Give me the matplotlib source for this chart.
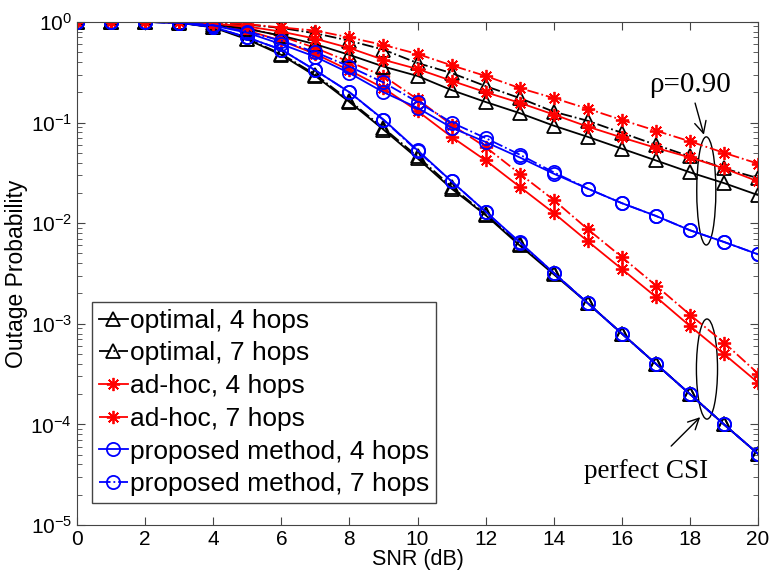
import matplotlib
matplotlib.use("Agg")
import matplotlib.pyplot as plt
from matplotlib.patches import Ellipse
from matplotlib.ticker import LogLocator, NullFormatter

plt.rcParams["font.family"] = ["Liberation Sans", "DejaVu Sans"]
plt.rcParams["mathtext.default"] = "regular"

snr = list(range(0, 21))

# perfect CSI
opt4_perf = [1, 1, 1, 0.98, 0.88, 0.67, 0.47, 0.29, 0.16, 0.085, 0.044, 0.022, 0.012,
             0.006, 0.0031, 0.0016, 0.0008, 0.0004, 0.0002, 0.0001, 5.1e-5]
opt7_perf = [1, 1, 1, 0.98, 0.89, 0.68, 0.48, 0.30, 0.165, 0.088, 0.046, 0.023, 0.0122,
             0.0062, 0.0032, 0.0016, 0.0008, 0.0004, 0.0002, 0.0001, 5.1e-5]
adhoc4_perf = [1, 1, 1, 0.99, 0.93, 0.82, 0.65, 0.48, 0.33, 0.22, 0.13, 0.072, 0.042,
               0.023, 0.0126, 0.0066, 0.0035, 0.00185, 0.00095, 0.0005, 0.00026]
adhoc7_perf = [1, 1, 1, 0.99, 0.95, 0.87, 0.72, 0.55, 0.40, 0.29, 0.17, 0.095, 0.057,
               0.031, 0.017, 0.0087, 0.0046, 0.0024, 0.00123, 0.00065, 0.00032]
prop4_perf = [1, 1, 1, 0.98, 0.89, 0.70, 0.53, 0.33, 0.20, 0.107, 0.053, 0.026, 0.013,
              0.0065, 0.0032, 0.0016, 0.0008, 0.0004, 0.0002, 0.0001, 5.1e-5]
prop7_perf = [1, 1, 1, 0.98, 0.89, 0.70, 0.53, 0.33, 0.20, 0.106, 0.052, 0.026, 0.013,
              0.0064, 0.0032, 0.0016, 0.0008, 0.0004, 0.0002, 0.0001, 5.1e-5]

# rho = 0.90
opt4_rho = [1, 1, 1, 0.99, 0.94, 0.85, 0.73, 0.60, 0.47, 0.36, 0.29, 0.21, 0.16,
            0.124, 0.093, 0.072, 0.055, 0.042, 0.032, 0.025, 0.019]
opt7_rho = [1, 1, 1, 0.99, 0.98, 0.94, 0.87, 0.77, 0.65, 0.53, 0.39, 0.31, 0.23,
            0.175, 0.128, 0.104, 0.079, 0.060, 0.046, 0.035, 0.028]
adhoc4_rho = [1, 1, 1, 0.99, 0.96, 0.90, 0.80, 0.68, 0.55, 0.42, 0.34, 0.26, 0.20,
              0.157, 0.12, 0.091, 0.071, 0.056, 0.045, 0.035, 0.026]
adhoc7_rho = [1, 1, 1, 1, 0.98, 0.95, 0.88, 0.82, 0.70, 0.59, 0.48, 0.37, 0.29,
              0.22, 0.175, 0.137, 0.106, 0.083, 0.065, 0.050, 0.039]
prop4_rho = [1, 1, 1, 0.98, 0.92, 0.78, 0.60, 0.45, 0.31, 0.20, 0.14, 0.089, 0.064,
             0.045, 0.031, 0.022, 0.0158, 0.0118, 0.0085, 0.0065, 0.0049]
prop7_rho = [1, 1, 1, 0.98, 0.93, 0.80, 0.65, 0.50, 0.36, 0.25, 0.16, 0.10, 0.070,
             0.048, 0.032, 0.022, 0.0158, 0.0118, 0.0085, 0.0065, 0.0049]

labels = ["optimal, 4 hops", "optimal, 7 hops", "ad-hoc, 4 hops", "ad-hoc, 7 hops",
          "proposed method, 4 hops", "proposed method, 7 hops"]

fig = plt.figure(figsize=(7.71, 5.76), dpi=100)
ax = fig.add_axes([0.0999, 0.0885, 0.8833, 0.8735])

# matlab-like asterisk: 8 spokes
star = (8, 2, 0)
styles = [
    ("k", "-", "^", "none"),
    ("k", "-.", "^", "none"),
    ("r", "-", star, "r"),
    ("r", "-.", star, "r"),
    ("b", "-", "o", "none"),
    ("b", "-.", "o", "none"),
]
perf = [opt4_perf, opt7_perf, adhoc4_perf, adhoc7_perf, prop4_perf, prop7_perf]
rho = [opt4_rho, opt7_rho, adhoc4_rho, adhoc7_rho, prop4_rho, prop7_rho]

for data, lab, (c, ls, mk, fc) in zip(perf, labels, styles):
    ax.semilogy(snr, data, color=c, linestyle=ls, marker=mk, markerfacecolor=fc,
                markeredgecolor=c, markersize=9.5, markeredgewidth=1.3, linewidth=1.3, label=lab)
for data, (c, ls, mk, fc) in zip(rho, styles):
    ax.semilogy(snr, data, color=c, linestyle=ls, marker=mk, markerfacecolor=fc,
                markeredgecolor=c, markersize=9.5, markeredgewidth=1.3, linewidth=1.3)

ax.set_xlim(0, 20)
ax.set_ylim(1e-5, 1)
ax.set_xticks(range(0, 21, 2))
ax.yaxis.set_major_locator(LogLocator(base=10, numticks=10))
ax.yaxis.set_minor_locator(LogLocator(base=10, subs=range(2, 10), numticks=20))
ax.yaxis.set_minor_formatter(NullFormatter())
ax.tick_params(which="both", direction="in", top=True, right=True, labelsize=15, color="#444444")
ax.tick_params(which="major", length=6)
ax.tick_params(which="minor", length=3.5)
for s in ax.spines.values():
    s.set_color("#444444")
ax.set_xlabel("SNR (dB)", fontsize=15.5, labelpad=0)
ax.set_ylabel("Outage Probability", fontsize=16.5, labelpad=2)

leg = ax.legend(loc="lower left", bbox_to_anchor=(0.022, 0.044), fontsize=19, handlelength=1.1,
                handletextpad=0.1, labelspacing=0.33, borderpad=0.25, fancybox=False,
                framealpha=1, edgecolor="#444444", borderaxespad=0)
leg.get_frame().set_linewidth(1)

ax.add_patch(Ellipse((0.924, 0.664), 0.028, 0.215, transform=ax.transAxes,
                     fill=False, edgecolor="k", linewidth=1))
ax.add_patch(Ellipse((0.925, 0.310), 0.031, 0.199, transform=ax.transAxes,
                     fill=False, edgecolor="k", linewidth=1))

ax.annotate("\u03c1=0.90", xy=(18.41, 0.0756), xytext=(18.0, 0.238), ha="center", va="center",
            fontsize=21, family="Liberation Serif",
            arrowprops=dict(arrowstyle="->", color="k", lw=1, shrinkA=2, shrinkB=0))
ax.annotate("perfect CSI", xy=(18.3, 1.18e-4), xytext=(16.71, 3.43e-5), ha="center", va="center",
            fontsize=19.5, family="Liberation Serif",
            arrowprops=dict(arrowstyle="->", color="k", lw=1, shrinkA=10, shrinkB=0))

fig.savefig("out.png", dpi=100)
